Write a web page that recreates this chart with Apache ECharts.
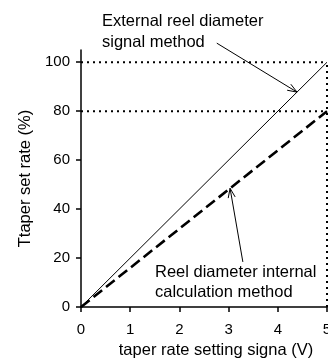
<!DOCTYPE html>
<html><head><meta charset="utf-8">
<script src="https://cdn.jsdelivr.net/npm/echarts@6/dist/echarts.min.js"></script>
<style>html,body{margin:0;padding:0;background:#fff}#c{width:328px;height:358px}</style>
</head><body><div id="c"></div>
<script>
// Taper set rate vs. taper rate setting signal for the two reel-diameter methods
const signalVolts = [0, 5];
const externalRate = [0, 100];
const internalRate = [0, 80];
const xTicks = [0, 1, 2, 3, 4, 5];
const yTicks = [0, 20, 40, 60, 80, 100];
const refLevels = [100, 80];
const refSignal = 5;
const externalLabel = ['External reel diameter', 'signal method'];
const internalLabel = ['Reel diameter internal', 'calculation method'];
// leader arrows in data units: [xFrom, yFrom, xTo, yTo]
const externalArrow = [2.76, 107.8, 4.39, 87.8];
const internalArrow = [3.29, 18.4, 3.03, 48.5];

const FONT = '"Liberation Sans", Arial, sans-serif';
const chart = echarts.init(document.getElementById('c'), null, {renderer: 'canvas'});

function pairs(xs, ys) { return xs.map((x, i) => [x, ys[i]]); }

function renderArrow(params, api) {
  const p0 = api.coord([api.value(0), api.value(1)]);
  const p1 = api.coord([api.value(2), api.value(3)]);
  const ang = Math.atan2(p1[1] - p0[1], p1[0] - p0[0]);
  const len = 10, spread = 0.36;
  const h1 = [p1[0] - len * Math.cos(ang - spread), p1[1] - len * Math.sin(ang - spread)];
  const h2 = [p1[0] - len * Math.cos(ang + spread), p1[1] - len * Math.sin(ang + spread)];
  return {
    type: 'group',
    children: [
      {type: 'line', shape: {x1: p0[0], y1: p0[1], x2: p1[0], y2: p1[1]}, style: {stroke: '#000', lineWidth: 1}},
      {type: 'polyline', shape: {points: [h1, p1, h2]}, style: {stroke: '#000', fill: null, lineWidth: 1}}
    ]
  };
}

const dotted = {color: '#000', width: 2, type: [2, 4], cap: 'butt'};
const refSeries = refLevels.map(v => ({
  type: 'line', data: [[0, v], [refSignal, v]], symbol: 'none', silent: true,
  lineStyle: dotted, z: 1
}));
refSeries.push({
  type: 'line', data: [[refSignal, 0], [refSignal, refLevels[0]]], symbol: 'none', silent: true,
  lineStyle: dotted, z: 1
});

chart.setOption({
  animation: false,
  backgroundColor: '#fff',
  grid: {left: 81, right: 1, top: 50, bottom: 51, containLabel: false, outerBoundsMode: 'none'},
  xAxis: {
    type: 'value', min: 0, max: 5, interval: 1,
    name: 'taper rate setting signa (V)', nameLocation: 'middle', nameGap: 34,
    nameTextStyle: {color: '#000', fontSize: 16.5, fontFamily: FONT, padding: [0, 0, 0, 24]},
    axisLine: {show: true, onZero: false, lineStyle: {color: '#000', width: 1.5}},
    axisTick: {show: true, inside: false, length: 5, lineStyle: {color: '#000', width: 1.5}},
    axisLabel: {color: '#000', fontSize: 15, fontFamily: FONT, margin: 15, showMaxLabel: true,
      customValues: xTicks},
    splitLine: {show: false}
  },
  yAxis: {
    type: 'value', min: 0, max: 105,
    name: 'Ttaper set rate (%)', nameLocation: 'middle', nameGap: 45, nameRotate: 90,
    nameTextStyle: {color: '#000', fontSize: 16.5, fontFamily: FONT},
    axisLine: {show: true, onZero: false, lineStyle: {color: '#000', width: 1.5}},
    axisTick: {show: true, inside: false, length: 5, lineStyle: {color: '#000', width: 1.5},
      customValues: yTicks},
    axisLabel: {color: '#000', fontSize: 15, fontFamily: FONT, margin: 11, customValues: yTicks},
    splitLine: {show: false}
  },
  series: refSeries.concat([
    {
      type: 'line', data: pairs(signalVolts, externalRate), symbol: 'none', silent: true,
      lineStyle: {color: '#000', width: 1}, z: 3
    },
    {
      type: 'line', data: pairs(signalVolts, internalRate), symbol: 'none', silent: true,
      lineStyle: {color: '#000', width: 2.6, type: [11, 5]}, z: 3
    },
    {
      type: 'custom', renderItem: renderArrow, data: [externalArrow, internalArrow],
      clip: false, silent: true, z: 4
    }
  ]),
  graphic: [
    {type: 'text', left: 102, top: 11, silent: true,
      style: {text: externalLabel.join('\n'), font: '16.5px ' + FONT, lineHeight: 21, fill: '#000'}},
    {type: 'text', left: 155, top: 262, silent: true,
      style: {text: internalLabel.join('\n'), font: '16.5px ' + FONT, lineHeight: 20, fill: '#000'}}
  ]
});
</script>
</body></html>
